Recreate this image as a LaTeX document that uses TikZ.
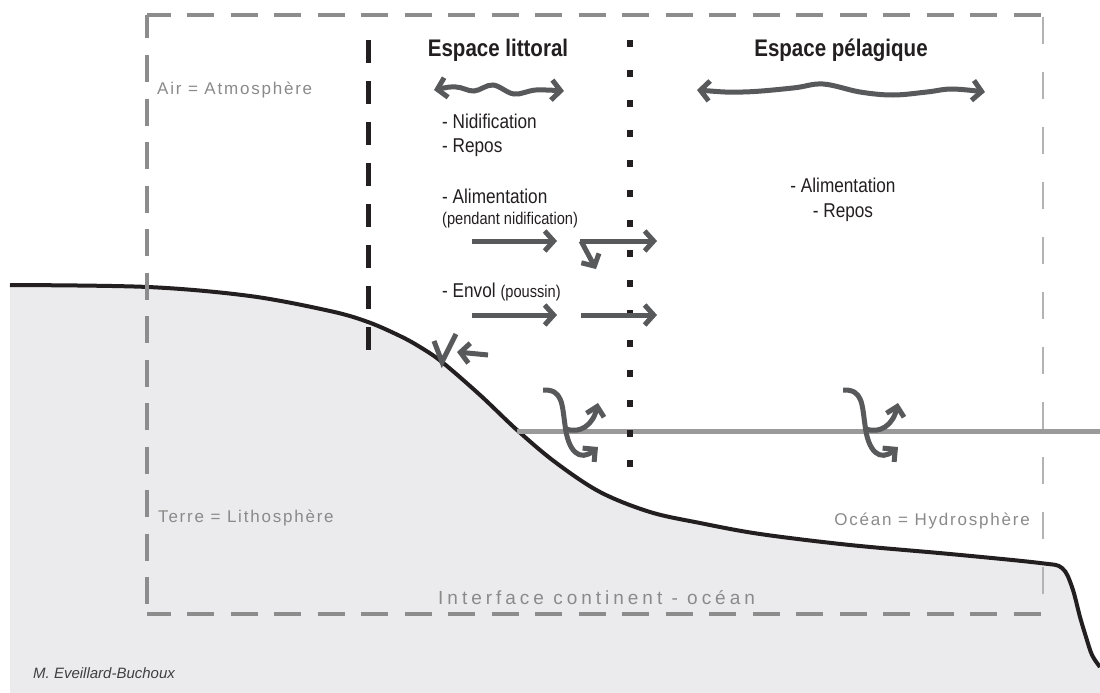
\documentclass[tikz,border=0pt]{standalone}
\usepackage{fontspec}
\setmainfont{Liberation Sans}
\newfontfamily\cond[FakeStretch=0.86]{Liberation Sans}
\newfontfamily\condt[FakeStretch=0.855]{Liberation Sans}
\newfontfamily\spaced[LetterSpace=10.5]{Liberation Sans}
\newfontfamily\wide[LetterSpace=21]{Liberation Sans}
\usetikzlibrary{arrows.meta}
\definecolor{blk}{HTML}{231F20}
\definecolor{ag}{HTML}{58595B}
\definecolor{fr}{HTML}{8C8C8C}
\definecolor{frl}{HTML}{B3B3B3}
\definecolor{sea}{HTML}{9A9A9A}
\definecolor{land}{HTML}{EBEBED}
\definecolor{lab}{HTML}{8A8A8A}
\tikzset{
  title/.style={inner sep=0pt, anchor=base, text=blk, font=\condt\bfseries\fontsize{24}{27}\selectfont},
  body/.style={inner sep=0pt, anchor=base west, text=blk, font=\cond\fontsize{20}{23}\selectfont},
  smalltxt/.style={inner sep=0pt, anchor=base west, text=blk, font=\cond\fontsize{17}{19}\selectfont},
  lbl/.style={inner sep=0pt, anchor=base west, text=lab, font=\spaced\fontsize{17}{20}\selectfont},
  arr/.style={draw=ag, line width=5pt, -{Straight Barb[length=9pt,width=20pt]}},
  darr/.style={draw=ag, line width=5pt, {Straight Barb[length=9pt,width=20pt]}-{Straight Barb[length=9pt,width=20pt]}},
  warr/.style={draw=ag, line width=5pt, -{Straight Barb[length=9pt,width=18pt]}},
  framel/.style={draw=fr, line width=4pt, dash pattern=on 27pt off 16.5pt},
}
\begin{document}
\begin{tikzpicture}[x=1pt,y=-1pt]
\useasboundingbox (0,0) rectangle (1100,693);
\fill[white] (0,0) rectangle (1100,693);
% land
\fill[land] plot[smooth, tension=0.55] coordinates {(10,285)(148,287)(250,296)(330,311)(368,322)(400,336)(420,347)(442,362)(480,395)(517,430)(555,462)(600,492)(650,512)(700,523)(760,534)(850,545)(950,554)(1040,563)(1062,568)(1072,587)(1080,617)(1086,637)(1092,655)(1100,667)} -- (1100,693) -- (10,693) -- cycle;
\draw[blk, line width=4pt] plot[smooth, tension=0.55] coordinates {(10,285)(148,287)(250,296)(330,311)(368,322)(400,336)(420,347)(442,362)(480,395)(517,430)(555,462)(600,492)(650,512)(700,523)(760,534)(850,545)(950,554)(1040,563)(1062,568)(1072,587)(1080,617)(1086,637)(1092,655)(1100,667)};
% frame
\coordinate (tlc) at (147,15);
\coordinate (trc) at (1043,15);
\coordinate (blc) at (147,614);
\coordinate (brc) at (1043,614);
\draw[framel, dash phase=3.5pt] (tlc) -- (trc);
\draw[framel, dash phase=3.5pt] (tlc) -- (blc);
\draw[framel, dash phase=3.5pt] (blc) -- (brc);
\draw[frl, line width=2pt, dash pattern=on 27pt off 28pt, dash phase=-2pt] (trc) -- (brc);
% sea line
\coordinate (s1) at (517,431);
\coordinate (s2) at (1100,431);
\draw[sea, line width=5pt] (s1) -- (s2);
% littoral boundary
\coordinate (b1) at (368,40);
\coordinate (b2) at (368,350);
\draw[blk, line width=5pt, dash pattern=on 23pt off 18pt] (b1) -- (b2);
\coordinate (d1) at (630,40);
\coordinate (d2) at (630,470);
\draw[blk, line width=6pt, dash pattern=on 7pt off 23pt] (d1) -- (d2);
% texts
\node[title] (tl) at (498,57) {Espace littoral};
\node[title] (tp) at (841,57) {Espace pélagique};
\node[body] (n1) at (442,128) {- Nidification};
\node[body] (n2) at (442,152) {- Repos};
\node[body] (n3) at (442,203) {- Alimentation};
\node[smalltxt] (n4) at (442,224) {(pendant nidification)};
\node[body] (n5) at (442,297) {- Envol {\fontsize{17}{19}\selectfont(poussin)}};
\node[body, anchor=base] (p1) at (843,192) {- Alimentation};
\node[body, anchor=base] (p2) at (843,217) {- Repos};
\node[lbl] (air) at (157,94) {Air = Atmosphère};
\node[lbl] (terre) at (158,522) {Terre = Lithosphère};
\node[lbl, anchor=base east] (ocean) at (1030,525) {Océan = Hydrosphère};
\node[inner sep=0pt, anchor=base west, text=lab, font=\wide\fontsize{19}{22}\selectfont] (iface) at (438,604) {Interface continent - océan};
\node[inner sep=0pt, anchor=base west, text=black!75, font=\itshape\fontsize{15}{18}\selectfont] (auth) at (33,678) {M. Eveillard-Buchoux};
% wavy double arrows
\draw[darr] plot[smooth, tension=0.6] coordinates {(434,90)(456,87)(474,91)(493,85)(514,94)(536,90)(564,91)};
\draw[darr] plot[smooth, tension=0.6] coordinates {(697,90)(743,92)(793,88)(823,84)(860,92)(893,95)(927,92)(952,89)(985,92)};
% straight arrows
\coordinate (a1s) at (472,241); \coordinate (a1e) at (557,241);
\coordinate (a2s) at (580,241); \coordinate (a2e) at (657,241);
\coordinate (a2b) at (596,269);
\coordinate (a3s) at (472,315); \coordinate (a3e) at (557,315);
\coordinate (a4s) at (581,315); \coordinate (a4e) at (657,315);
\draw[arr] (a1s) -- (a1e);
\draw[arr] (a2s) -- (a2e);
\draw[arr] ([xshift=1pt]a2s) -- (a2b);
\draw[arr] (a3s) -- (a3e);
\draw[arr] (a4s) -- (a4e);
\coordinate (l1) at (488,355); \coordinate (l2) at (457,352);
\draw[arr] (l1) -- (l2);
\draw[ag, line width=5pt, miter limit=10] (434,341) -- (442,362) -- (456,334);
% water arrows
\foreach \dx in {0,300} {
  \begin{scope}[shift={(\dx,0)}]
    \draw[warr] (543,390) .. controls (563,389) and (562,405) .. (565,425) .. controls (568,452) and (580,462) .. (598,447);
    \draw[warr] (566,429) .. controls (580,434) and (593,425) .. (598,403);
  \end{scope}
}
\end{tikzpicture}
\end{document}
